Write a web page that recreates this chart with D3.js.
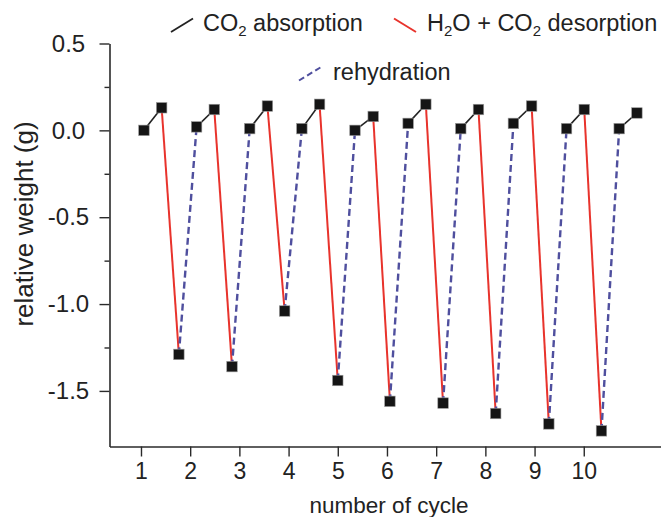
<!DOCTYPE html>
<html>
<head>
<meta charset="utf-8">
<script src="https://cdn.jsdelivr.net/npm/d3@7"></script>
<style>
  html, body { margin: 0; padding: 0; background: #fff; }
  svg { display: block; }
  text { font-family: "Liberation Sans", Arial, Helvetica, sans-serif; fill: #222; }
</style>
</head>
<body>
<svg id="chart" width="661" height="517"></svg>
<script>
// ---- data ----
const cycles = [1, 2, 3, 4, 5, 6, 7, 8, 9, 10];
// start of CO2 absorption in each cycle
const absStartX = [1.06, 2.13, 3.21, 4.27, 5.35, 6.43, 7.50, 8.57, 9.65, 10.72];
const absStartY = [0.00, 0.02, 0.01, 0.01, 0.00, 0.04, 0.01, 0.04, 0.01, 0.01];
// end of CO2 absorption
const absEndX = [1.42, 2.49, 3.57, 4.63, 5.72, 6.79, 7.86, 8.94, 10.01, 11.08];
const absEndY = [0.13, 0.12, 0.14, 0.15, 0.08, 0.15, 0.12, 0.14, 0.12, 0.10];
// end of H2O + CO2 desorption
const desEndX = [1.77, 2.85, 3.92, 5.00, 6.06, 7.14, 8.21, 9.29, 10.36];
const desEndY = [-1.29, -1.36, -1.04, -1.44, -1.56, -1.57, -1.63, -1.69, -1.73];

const xTicks = [1, 2, 3, 4, 5, 6, 7, 8, 9, 10];
const yTicks = [0.5, 0.0, -0.5, -1.0, -1.5];
const yMinorTicks = [0.25, -0.25, -0.75, -1.25];

const xDomain = [0.36, 11.57];
const yDomain = [-1.82, 0.5];

// ---- layout ----
const svg = d3.select("#chart");
const x = d3.scaleLinear().domain(xDomain).range([109.5, 661]);
const y = d3.scaleLinear().domain(yDomain).range([446.5, 43.5]);

const axisColor = "#2a2a2a";
const red = "#e8332c";
const blue = "#4f4f9e";
const fontFam = '"Liberation Sans", Arial, sans-serif';

// axes
const gx = svg.append("g").attr("transform", `translate(0,${y(yDomain[0])})`)
  .call(d3.axisBottom(x).tickValues(xTicks).tickFormat(d3.format("d"))
    .tickSizeInner(10).tickSizeOuter(0).tickPadding(6));
gx.select(".domain").attr("stroke", axisColor).attr("stroke-width", 1.6);
gx.selectAll(".tick line").attr("stroke", axisColor).attr("stroke-width", 1.4);
gx.selectAll(".tick text").attr("font-size", 23).attr("fill", "#222").style("font-family", fontFam);

const gyMinor = svg.append("g").attr("transform", `translate(${x(xDomain[0])},0)`)
  .call(d3.axisLeft(y).tickValues(yMinorTicks).tickFormat("").tickSizeInner(5).tickSizeOuter(0));
gyMinor.select(".domain").remove();
gyMinor.selectAll(".tick line").attr("stroke", axisColor).attr("stroke-width", 1.4);

const gy = svg.append("g").attr("transform", `translate(${x(xDomain[0])},0)`)
  .call(d3.axisLeft(y).tickValues(yTicks).tickFormat(d3.format(".1f"))
    .tickSizeInner(10).tickSizeOuter(0).tickPadding(8));
gy.select(".domain").attr("stroke", axisColor).attr("stroke-width", 1.6);
gy.selectAll(".tick line").attr("stroke", axisColor).attr("stroke-width", 1.4);
gy.selectAll(".tick text").attr("font-size", 24).attr("fill", "#222").style("font-family", fontFam)
  .attr("text-anchor", "middle").attr("x", -41)
  .text(d => d3.format(".1f")(d).replace("−", "-"));

// axis titles
svg.append("text").attr("x", 389).attr("y", 513).attr("text-anchor", "middle")
  .attr("font-size", 22.5).text("number of cycle");
svg.append("text").attr("transform", `translate(33,224) rotate(-90)`)
  .attr("text-anchor", "middle").attr("font-size", 26).text("relative weight (g)");

// ---- lines ----
const lines = svg.append("g");
cycles.forEach((c, i) => {
  lines.append("line")
    .attr("x1", x(absStartX[i])).attr("y1", y(absStartY[i]))
    .attr("x2", x(absEndX[i])).attr("y2", y(absEndY[i]))
    .attr("stroke", "#222").attr("stroke-width", 1.6);
  if (i < desEndX.length) {
    lines.append("line")
      .attr("x1", x(absEndX[i])).attr("y1", y(absEndY[i]))
      .attr("x2", x(desEndX[i])).attr("y2", y(desEndY[i]))
      .attr("stroke", red).attr("stroke-width", 2);
    lines.append("line")
      .attr("x1", x(desEndX[i])).attr("y1", y(desEndY[i]))
      .attr("x2", x(absStartX[i + 1])).attr("y2", y(absStartY[i + 1]))
      .attr("stroke", blue).attr("stroke-width", 2.4).attr("stroke-dasharray", "7,4");
  }
});

// ---- markers ----
const pts = [];
cycles.forEach((c, i) => {
  pts.push([absStartX[i], absStartY[i]]);
  pts.push([absEndX[i], absEndY[i]]);
  if (i < desEndX.length) pts.push([desEndX[i], desEndY[i]]);
});
const ms = 10.5;
svg.append("g").selectAll("rect").data(pts).join("rect")
  .attr("x", d => x(d[0]) - ms / 2).attr("y", d => y(d[1]) - ms / 2)
  .attr("width", ms).attr("height", ms)
  .attr("fill", "#151515").attr("stroke", "#9a9a9a").attr("stroke-width", 0.6);

// ---- legend ----
const lg = svg.append("g");
const lfs = 23.5, sfs = 15;
lg.append("line").attr("x1", 171).attr("y1", 32).attr("x2", 193).attr("y2", 18.5)
  .attr("stroke", "#222").attr("stroke-width", 1.8);
const t1 = lg.append("text").attr("x", 203).attr("y", 31).attr("font-size", lfs);
t1.append("tspan").text("CO");
t1.append("tspan").attr("font-size", sfs).attr("dy", 5).text("2");
t1.append("tspan").attr("dy", -5).text(" absorption");

lg.append("line").attr("x1", 394).attr("y1", 18.5).attr("x2", 416).attr("y2", 32)
  .attr("stroke", red).attr("stroke-width", 2);
const t2 = lg.append("text").attr("x", 427).attr("y", 31).attr("font-size", lfs);
t2.append("tspan").text("H");
t2.append("tspan").attr("font-size", sfs).attr("dy", 5).text("2");
t2.append("tspan").attr("dy", -5).text("O + CO");
t2.append("tspan").attr("font-size", sfs).attr("dy", 5).text("2");
t2.append("tspan").attr("dy", -5).text(" desorption");

lg.append("line").attr("x1", 299).attr("y1", 80.5).attr("x2", 322).attr("y2", 66.5)
  .attr("stroke", blue).attr("stroke-width", 2).attr("stroke-dasharray", "6,3.5");
lg.append("text").attr("x", 333).attr("y", 80).attr("font-size", lfs).text("rehydration");
</script>
</body>
</html>
